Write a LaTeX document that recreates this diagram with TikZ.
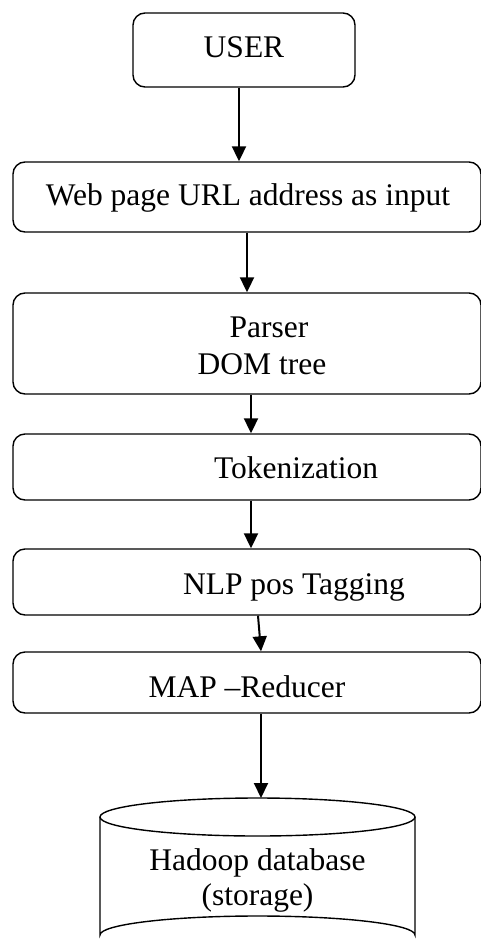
\documentclass[tikz,border=0pt]{standalone}
\usepackage{fontspec}
\setmainfont{Liberation Serif}
\usetikzlibrary{arrows.meta}

\tikzset{stage/.style = {draw, line width=1.4pt, rounded corners=12pt, inner sep=0pt}}
\tikzset{stagetext/.style = {anchor=base, inner sep=0pt, font=\fontsize{31.5}{37}\selectfont}}
\tikzset{flow/.style = {line width=2pt, -{Triangle[width=14pt,length=15pt]}}}

\begin{document}
\begin{tikzpicture}[x=1pt, y=-1pt]

\useasboundingbox (0,0) rectangle (481,945);

\def\boxw{468}
% storage drum: centre x, top and bottom ellipse centres, radii
\def\dbx{257.5}
\def\dbtop{817}
\def\dbbot{935}
\def\dbrx{157.5}
\def\dbry{19}

% boxes of the pipeline
\node[stage, minimum width=222, minimum height=74]    (user)   at (244, 50)    {};
\node[stage, minimum width=\boxw, minimum height=70]  (url)    at (247, 197)   {};
\node[stage, minimum width=\boxw, minimum height=101] (parser) at (247, 343.5) {};
\node[stage, minimum width=\boxw, minimum height=66]  (tok)    at (247, 467)   {};
\node[stage, minimum width=\boxw, minimum height=66]  (nlp)    at (247, 582)   {};
\node[stage, minimum width=\boxw, minimum height=61]  (mapred) at (247, 682.5) {};

% storage
\draw[line width=1.4pt] (\dbx, \dbtop) ellipse [x radius=\dbrx, y radius=\dbry];
\draw[line width=1.4pt] (\dbx-\dbrx, \dbtop) -- (\dbx-\dbrx, \dbbot)
     arc [start angle=180, end angle=360, x radius=\dbrx, y radius=\dbry]
     -- (\dbx+\dbrx, \dbtop);
\coordinate (db) at (\dbx+3.5, \dbtop-\dbry);

% labels
\node[stagetext] (usert)  at (244, 57)  {USER};
\node[stagetext] (urlt)   at (248, 205) {Web page URL address as input};
\node[stagetext] (parst)  at (269, 337) {Parser};
\node[stagetext] (domt)   at (262, 374) {DOM tree};
\node[stagetext] (tokt)   at (296, 478) {Tokenization};
\node[stagetext] (nlpt)   at (294, 594) {NLP pos Tagging};
\node[stagetext] (mapt)   at (247, 697) {MAP --Reducer};
\node[stagetext] (dbt)    at (\dbx, 870) {Hadoop database};
\node[stagetext] (dbst)   at (\dbx, 905) {(storage)};

% arrows
\draw[flow] ([xshift=-5pt]user.south)  -- ([xshift=-8pt]url.north);
\draw[flow] (url.south)                -- (parser.north);
\draw[flow] ([xshift=4pt]parser.south) -- ([xshift=4pt]tok.north);
\draw[flow] ([xshift=4pt]tok.south)    -- ([xshift=4pt]nlp.north);
\draw[flow] ([xshift=11pt]nlp.south)   -- ([xshift=14pt]mapred.north);
\draw[flow] ([xshift=14pt]mapred.south) -- (db);

\end{tikzpicture}
\end{document}
